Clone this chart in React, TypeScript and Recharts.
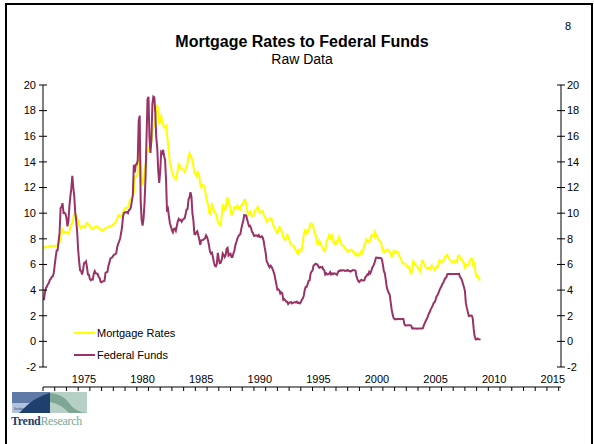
import React from 'react';
import { LineChart, Line, XAxis, YAxis } from 'recharts';

// monthly values, Jan 1972 .. May 2009
const START_YEAR = 1972;

const fedFunds = [
  3.29, 3.29, 3.83, 4.17, 4.27, 4.46, 4.55, 4.8, 4.87, 5.04, 5.06, 5.33,
  5.94, 6.58, 7.09, 7.12, 7.84, 8.49, 10.4, 10.5, 10.78, 10.01, 10.03, 9.95,
  9.65, 8.97, 9.35, 10.51, 11.31, 11.93, 12.92, 12.01, 11.34, 10.06, 9.45, 8.53,
  7.13, 6.24, 5.54, 5.49, 5.22, 5.55, 6.1, 6.14, 6.24, 5.82, 5.22, 5.2,
  4.87, 4.77, 4.84, 4.82, 5.29, 5.48, 5.31, 5.29, 5.25, 5.02, 4.95, 4.65,
  4.61, 4.68, 4.69, 4.73, 5.35, 5.39, 5.42, 5.9, 6.14, 6.47, 6.51, 6.56,
  6.7, 6.78, 6.79, 6.89, 7.36, 7.6, 7.81, 8.04, 8.45, 8.96, 9.76, 10.03,
  10.07, 10.06, 10.09, 10.01, 10.24, 10.29, 10.47, 10.94, 11.43, 13.77, 13.18, 13.78,
  13.82, 14.13, 17.19, 17.61, 10.98, 9.47, 9.03, 9.61, 10.87, 12.81, 15.85, 18.9,
  19.08, 15.93, 14.7, 15.72, 18.52, 19.1, 19.04, 17.82, 15.87, 15.08, 13.31, 12.37,
  13.22, 14.78, 14.68, 14.94, 14.45, 14.15, 12.59, 10.12, 10.31, 9.71, 9.2, 8.95,
  8.68, 8.51, 8.77, 8.8, 8.63, 8.98, 9.37, 9.56, 9.45, 9.48, 9.34, 9.47,
  9.56, 9.59, 9.91, 10.29, 10.32, 11.06, 11.23, 11.64, 11.3, 9.99, 9.43, 8.38,
  8.35, 8.5, 8.58, 8.27, 7.97, 7.53, 7.88, 7.9, 7.92, 7.99, 8.05, 8.27,
  8.14, 7.86, 7.48, 6.99, 6.85, 6.92, 6.56, 6.17, 5.89, 5.85, 6.04, 6.91,
  6.43, 6.1, 6.13, 6.37, 6.85, 6.73, 6.58, 6.73, 7.22, 7.29, 6.69, 6.77,
  6.83, 6.58, 6.58, 6.87, 7.09, 7.51, 7.75, 8.01, 8.19, 8.3, 8.35, 8.76,
  9.12, 9.36, 9.85, 9.84, 9.81, 9.53, 9.24, 8.99, 9.02, 8.84, 8.55, 8.45,
  8.23, 8.24, 8.28, 8.26, 8.18, 8.29, 8.15, 8.13, 8.2, 8.11, 7.81, 7.31,
  6.91, 6.25, 6.12, 5.91, 5.78, 5.9, 5.82, 5.66, 5.45, 5.21, 4.81, 4.43,
  4.03, 4.06, 3.98, 3.73, 3.82, 3.76, 3.25, 3.3, 3.22, 3.1, 3.09, 2.92,
  3.02, 3.03, 3.07, 2.96, 3.0, 3.04, 3.06, 3.03, 3.09, 2.99, 3.02, 2.96,
  3.05, 3.25, 3.34, 3.56, 4.01, 4.25, 4.26, 4.47, 4.73, 4.76, 5.29, 5.45,
  5.53, 5.92, 5.98, 6.05, 6.01, 6.0, 5.85, 5.74, 5.8, 5.76, 5.8, 5.6,
  5.56, 5.22, 5.31, 5.22, 5.24, 5.27, 5.4, 5.22, 5.3, 5.24, 5.31, 5.29,
  5.25, 5.19, 5.39, 5.51, 5.5, 5.56, 5.52, 5.54, 5.54, 5.5, 5.52, 5.5,
  5.56, 5.51, 5.49, 5.45, 5.49, 5.56, 5.54, 5.55, 5.51, 5.07, 4.83, 4.68,
  4.63, 4.76, 4.81, 4.74, 4.74, 4.76, 4.99, 5.07, 5.22, 5.2, 5.42, 5.3,
  5.45, 5.73, 5.85, 6.02, 6.27, 6.53, 6.54, 6.5, 6.52, 6.51, 6.51, 6.4,
  5.98, 5.49, 5.31, 4.8, 4.21, 3.97, 3.77, 3.65, 3.07, 2.49, 2.09, 1.82,
  1.73, 1.74, 1.73, 1.75, 1.75, 1.75, 1.73, 1.74, 1.75, 1.75, 1.34, 1.24,
  1.24, 1.26, 1.25, 1.26, 1.26, 1.22, 1.01, 1.03, 1.01, 1.01, 1.0, 0.98,
  1.0, 1.01, 1.0, 1.0, 1.0, 1.03, 1.26, 1.43, 1.61, 1.76, 1.93, 2.16,
  2.28, 2.5, 2.63, 2.79, 3.0, 3.04, 3.26, 3.5, 3.62, 3.78, 4.0, 4.16,
  4.29, 4.49, 4.59, 4.79, 4.94, 4.99, 5.24, 5.25, 5.25, 5.25, 5.25, 5.24,
  5.25, 5.26, 5.26, 5.25, 5.25, 5.25, 5.26, 5.02, 4.94, 4.76, 4.49, 4.24,
  3.94, 2.98, 2.61, 2.28, 1.98, 2.0, 2.01, 2.0, 1.81, 0.97, 0.39, 0.16,
  0.15, 0.22, 0.18, 0.15, 0.18,
];

const mortgageRates = [
  7.44, 7.32, 7.29, 7.36, 7.38, 7.41, 7.43, 7.43, 7.43, 7.46, 7.46, 7.45,
  7.44, 7.44, 7.46, 7.54, 7.65, 7.73, 8.05, 8.5, 8.82, 8.48, 8.46, 8.54,
  8.54, 8.46, 8.41, 8.58, 8.97, 9.09, 9.28, 9.59, 9.96, 9.98, 9.79, 9.62,
  9.43, 9.1, 8.89, 8.82, 8.99, 9.01, 8.91, 8.89, 9.16, 9.23, 9.14, 9.06,
  9.03, 8.86, 8.81, 8.77, 8.84, 8.95, 8.95, 8.98, 8.94, 8.86, 8.79, 8.72,
  8.67, 8.67, 8.69, 8.75, 8.83, 8.86, 8.87, 8.94, 8.96, 9.0, 9.01, 9.05,
  9.13, 9.2, 9.27, 9.39, 9.59, 9.77, 9.86, 9.78, 9.75, 9.79, 10.0, 10.28,
  10.4, 10.41, 10.43, 10.5, 10.69, 11.04, 11.09, 11.09, 11.3, 11.64, 12.83, 12.9,
  12.88, 13.04, 15.28, 16.32, 14.26, 12.71, 12.19, 12.56, 13.2, 13.79, 14.21, 14.79,
  14.9, 15.13, 15.4, 15.58, 16.4, 16.7, 16.83, 17.29, 18.16, 18.45, 17.83, 16.92,
  17.4, 17.6, 17.16, 16.89, 16.68, 16.7, 16.82, 16.27, 15.43, 14.61, 13.83, 13.62,
  13.25, 13.04, 12.8, 12.78, 12.63, 12.87, 13.42, 13.81, 13.73, 13.54, 13.44, 13.42,
  13.37, 13.23, 13.39, 13.65, 13.94, 14.42, 14.67, 14.47, 14.35, 14.13, 13.64, 13.18,
  13.08, 12.92, 13.17, 13.2, 12.91, 12.22, 12.03, 12.19, 12.19, 12.14, 11.78, 11.26,
  10.88, 10.71, 10.08, 9.94, 10.14, 10.68, 10.51, 10.2, 10.01, 9.98, 9.7, 9.32,
  9.2, 9.08, 9.04, 9.83, 10.6, 10.54, 10.28, 10.33, 10.89, 11.26, 10.65, 10.65,
  10.43, 9.89, 9.93, 10.2, 10.46, 10.46, 10.43, 10.6, 10.48, 10.3, 10.27, 10.61,
  10.73, 10.65, 11.03, 11.05, 10.77, 10.2, 9.88, 9.99, 10.13, 9.95, 9.77, 9.74,
  9.9, 10.2, 10.27, 10.37, 10.48, 10.16, 10.04, 10.1, 10.18, 10.18, 9.9, 9.67,
  9.64, 9.37, 9.5, 9.49, 9.47, 9.62, 9.58, 9.24, 9.01, 8.86, 8.71, 8.5,
  8.43, 8.76, 8.94, 8.85, 8.67, 8.51, 8.13, 7.98, 7.92, 8.09, 8.31, 8.22,
  7.99, 7.68, 7.5, 7.47, 7.47, 7.42, 7.21, 7.11, 6.92, 6.83, 7.16, 7.17,
  7.06, 7.15, 7.68, 8.32, 8.6, 8.4, 8.61, 8.51, 8.64, 8.93, 9.17, 9.2,
  9.15, 8.83, 8.46, 8.32, 7.96, 7.57, 7.61, 7.86, 7.64, 7.48, 7.38, 7.2,
  7.03, 7.08, 7.62, 7.93, 8.07, 8.32, 8.25, 8.0, 8.23, 7.92, 7.62, 7.6,
  7.82, 7.65, 7.9, 8.14, 7.94, 7.69, 7.5, 7.48, 7.43, 7.29, 7.21, 7.1,
  6.99, 7.04, 7.13, 7.14, 7.14, 7.0, 6.95, 6.92, 6.72, 6.71, 6.87, 6.72,
  6.79, 6.81, 7.04, 6.92, 7.15, 7.55, 7.63, 7.94, 7.82, 7.85, 7.74, 7.91,
  8.21, 8.33, 8.24, 8.15, 8.52, 8.29, 8.15, 8.03, 7.91, 7.8, 7.75, 7.38,
  7.03, 7.05, 6.95, 7.08, 7.15, 7.16, 7.13, 6.95, 6.82, 6.62, 6.66, 7.07,
  7.0, 6.89, 7.01, 6.99, 6.81, 6.65, 6.49, 6.29, 6.09, 6.11, 6.07, 6.05,
  5.92, 5.84, 5.75, 5.81, 5.48, 5.23, 5.63, 6.26, 6.15, 5.95, 5.93, 5.88,
  5.71, 5.64, 5.45, 5.83, 6.27, 6.29, 6.06, 5.87, 5.75, 5.72, 5.73, 5.75,
  5.71, 5.63, 5.93, 5.86, 5.72, 5.58, 5.7, 5.82, 5.77, 6.07, 6.33, 6.27,
  6.15, 6.25, 6.32, 6.51, 6.6, 6.68, 6.76, 6.52, 6.4, 6.36, 6.24, 6.14,
  6.22, 6.29, 6.16, 6.18, 6.26, 6.66, 6.7, 6.57, 6.38, 6.38, 6.21, 6.1,
  5.76, 5.92, 5.97, 5.92, 6.04, 6.32, 6.43, 6.48, 6.04, 6.2, 6.09, 5.29,
  5.06, 5.13, 5.0, 4.81, 4.86,
];

const yTicks = [-2, 0, 2, 4, 6, 8, 10, 12, 14, 16, 18, 20];
const yearLabels = [1975, 1980, 1985, 1990, 1995, 2000, 2005, 2010, 2015];
const yearTicks = [
  1972, 1973, 1974, 1975, 1976, 1977, 1978, 1979, 1980, 1981, 1982, 1983, 1984, 1985, 1986,
  1987, 1988, 1989, 1990, 1991, 1992, 1993, 1994, 1995, 1996, 1997, 1998, 1999, 2000, 2001,
  2002, 2003, 2004, 2005, 2006, 2007, 2008, 2009, 2010, 2011, 2012, 2013, 2014, 2015, 2016,
];

const data = fedFunds.map((v, i) => ({
  t: START_YEAR + i / 12,
  fed: v,
  mort: mortgageRates[i],
}));

const X_DOMAIN: [number, number] = [1972, 2016.2];
const Y_DOMAIN: [number, number] = [-2, 20];
const FONT = '"Liberation Sans", Arial, sans-serif';

const YTick = ({ x, y, payload, side }: any) => (
  <g>
    <line x1={x - 4} x2={x + 4} y1={y} y2={y} stroke="#000" />
    <text
      x={side === 'left' ? x - 7 : x + 6}
      y={y}
      dy="0.35em"
      textAnchor={side === 'left' ? 'end' : 'start'}
      fontSize={11}
      fontFamily={FONT}
      fill="#000"
    >
      {payload.value}
    </text>
  </g>
);

const Logo = () => (
  <svg width={80} height={40} style={{ position: 'absolute', left: 11, top: 390 }}>
    <rect x={1} y={2} width={38} height={11} fill="#5f7aa6" />
    <rect x={1} y={13} width={38} height={10} fill="#b3c3dc" />
    <rect x={39} y={2} width={37} height={21} fill="#b7d0c5" />
    <path d="M8 23 Q24 6 39 3 L39 23 Z" fill="#1f3f6e" />
    <path d="M39 3 Q52 4 58 13 Q64 22 76 23 L58 23 Q50 14 39 12 Z" fill="#7ea895" />
    <text x={3} y={20} fontSize={4} fill="#1f3f6e" fontFamily="serif">Institute for</text>
    <text x={0} y={35} fontSize={12} fontFamily='"Liberation Serif", serif' letterSpacing={-0.3}>
      <tspan fill="#1f3f6e" fontWeight="bold">Trend</tspan>
      <tspan fill="#7ea895">Research</tspan>
    </text>
  </svg>
);

const LegendRow = ({ top, color, label }: any) => (
  <div style={{ position: 'absolute', left: 74, top, display: 'flex', alignItems: 'center' }}>
    <div style={{ width: 21, height: 2, background: color }} />
    <span style={{ fontFamily: FONT, fontSize: 11, color: '#000', marginLeft: 2 }}>{label}</span>
  </div>
);

export default function App() {
  return (
    <div
      style={{
        position: 'absolute',
        left: 0,
        top: 0,
        width: 594,
        height: 444,
        background: '#fff',
        overflow: 'hidden',
        fontFamily: FONT,
      }}
    >
      <div
        style={{
          position: 'absolute',
          left: 5,
          top: 3,
          width: 584,
          height: 470,
          border: '2px solid #000',
        }}
      />
      <div style={{ position: 'absolute', left: 565, top: 20, fontSize: 11 }}>8</div>
      <div
        style={{
          position: 'absolute',
          left: 0,
          width: 604,
          top: 33,
          textAlign: 'center',
          fontSize: 16,
          fontWeight: 'bold',
        }}
      >
        Mortgage Rates to Federal Funds
      </div>
      <div
        style={{ position: 'absolute', left: 0, width: 604, top: 51, textAlign: 'center', fontSize: 14 }}
      >
        Raw Data
      </div>

      <div style={{ position: 'absolute', left: 0, top: 0 }}>
        <LineChart width={594} height={444} data={data} margin={{ top: 85, right: 0, bottom: 51, left: 0 }}>
          <XAxis
            xAxisId="m"
            dataKey="t"
            type="number"
            domain={X_DOMAIN}
            allowDataOverflow
            ticks={yearTicks}
            interval={0}
            tickFormatter={() => ''}
            tickSize={4}
            height={6}
            stroke="#000"
          />
          <XAxis
            xAxisId="lab"
            dataKey="t"
            type="number"
            domain={X_DOMAIN}
            allowDataOverflow
            ticks={yearLabels.map((y) => y + 0.5)}
            interval={0}
            tickFormatter={(v: number) => String(Math.floor(v))}
            axisLine={false}
            tickLine={false}
            tickMargin={2}
            height={20}
            tick={{ fontSize: 11, fill: '#000', fontFamily: FONT }}
          />
          <YAxis
            yAxisId="l"
            orientation="left"
            domain={Y_DOMAIN}
            allowDataOverflow
            ticks={yTicks}
            interval={0}
            width={43}
            tickSize={0}
            tickMargin={0}
            stroke="#000"
            tick={(p: any) => <YTick {...p} side="left" />}
          />
          <YAxis
            yAxisId="r"
            orientation="right"
            domain={Y_DOMAIN}
            allowDataOverflow
            ticks={yTicks}
            interval={0}
            width={33}
            tickSize={0}
            tickMargin={0}
            stroke="#000"
            tick={(p: any) => <YTick {...p} side="right" />}
          />
          <Line
            xAxisId="m"
            yAxisId="l"
            dataKey="mort"
            stroke="#ffff00"
            strokeWidth={2}
            dot={false}
            isAnimationActive={false}
          />
          <Line
            xAxisId="lab"
            yAxisId="r"
            dataKey="fed"
            stroke="#993366"
            strokeWidth={2}
            dot={false}
            isAnimationActive={false}
          />
        </LineChart>
      </div>

      <LegendRow top={327} color="#ffff00" label="Mortgage Rates" />
      <LegendRow top={349} color="#993366" label="Federal Funds" />
      <Logo />
    </div>
  );
}
